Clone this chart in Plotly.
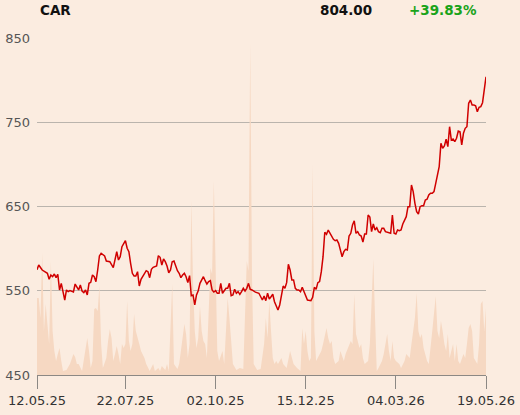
import plotly.graph_objects as go

# ---- data ----
symbol = "CAR"
last_price = "804.00"
change_pct = "+39.83%"

tick_days = [0, 51, 103, 155, 207, 259]
tick_labels = ["12.05.25", "22.07.25", "02.10.25", "15.12.25", "04.03.26", "19.05.26"]

price_day = [0, 1, 3, 5, 6, 7, 8, 9, 10, 11, 12, 13, 14, 15, 16, 17, 18, 19, 21, 22, 23, 24, 25, 26, 27, 28, 29, 30,
             31, 32, 33, 34, 35, 36, 37, 39, 40, 42, 44, 45, 46, 47, 48, 49, 51, 52, 53, 54, 55, 56, 57, 58, 59, 60,
             61, 63, 64, 65, 66, 67, 69, 70, 71, 72, 73, 74, 75, 76, 77, 78, 79, 80, 81, 82, 83, 84, 85, 86, 87, 88,
             89, 90, 91, 92, 93, 94, 96, 97, 98, 99, 100, 101, 102, 103, 104, 105, 106, 107, 108, 109, 110, 111, 112,
             113, 114, 115, 116, 117, 118, 119, 120, 121, 122, 123, 124, 126, 128, 129, 130, 131, 132, 133, 134, 135,
             136, 137, 139, 140, 141, 142, 143, 144, 145, 146, 147, 148, 149, 150, 151, 152, 153, 154, 155, 156, 158,
             159, 160, 161, 162, 163, 164, 165, 166, 167, 168, 169, 171, 172, 173, 174, 175, 176, 177, 178, 179, 180,
             181, 182, 183, 184, 185, 186, 187, 188, 189, 190, 191, 192, 193, 194, 195, 196, 197, 198, 199, 200, 201,
             203, 204, 205, 206, 207, 208, 209, 210, 211, 212, 213, 214, 215, 216, 217, 218, 219, 220, 221, 222, 223,
             224, 225, 226, 227, 228, 229, 230, 231, 232, 233, 234, 235, 236, 237, 238, 239, 240, 241, 242, 243, 244,
             245, 246, 247, 248, 249, 250, 251, 252, 253, 254, 255, 256, 257, 258, 259]
price = [575.0, 580.6, 574.6, 572.6, 570.7, 563.6, 568.7, 566.7, 569.9, 565.5, 569.5, 550.9, 558.8, 548.9, 539.0,
         550.9, 548.9, 550.1, 548.5, 558.0, 554.1, 550.9, 556.8, 549.7, 547.7, 550.9, 545.0, 558.8, 560.0, 568.7,
         566.7, 560.8, 574.6, 591.3, 594.5, 591.3, 585.3, 584.5, 577.4, 588.5, 596.4, 586.5, 590.4, 602.3, 609.4,
         600.4, 596.4, 582.6, 570.7, 567.5, 567.5, 572.6, 555.6, 563.6, 566.7, 573.8, 572.6, 565.5, 575.5, 577.8,
         579.4, 591.6, 589.7, 580.6, 587.7, 584.5, 579.4, 571.4, 574.6, 584.5, 585.3, 578.6, 573.8, 570.7, 565.5,
         568.7, 570.7, 566.7, 559.6, 567.9, 544.1, 545.0, 533.1, 545.0, 550.1, 558.8, 566.7, 561.9, 558.0, 560.8,
         561.9, 550.9, 548.5, 550.1, 547.0, 547.0, 558.8, 547.0, 550.9, 552.9, 552.9, 558.8, 544.1, 545.0, 551.7,
         547.0, 548.9, 545.8, 548.9, 552.9, 549.7, 552.9, 558.8, 551.7, 550.9, 548.3, 547.0, 542.9, 539.0, 543.8,
         538.2, 547.0, 540.2, 542.9, 545.8, 537.0, 527.2, 533.1, 542.9, 555.6, 552.9, 559.6, 581.4, 574.6, 562.8,
         562.8, 552.9, 550.9, 550.9, 548.9, 554.1, 548.9, 542.9, 539.0, 538.2, 542.2, 554.1, 551.7, 559.6, 560.8,
         572.6, 590.4, 619.4, 617.0, 622.1, 618.2, 611.1, 609.4, 610.2, 606.3, 596.4, 590.4, 596.4, 599.2, 598.4,
         615.0, 618.2, 628.0, 633.1, 618.2, 620.1, 616.2, 615.0, 607.9, 617.4, 617.4, 639.9, 637.5, 620.1, 629.2,
         622.1, 624.8, 620.1, 618.9, 624.1, 624.1, 620.1, 619.4, 618.2, 639.9, 618.2, 617.4, 622.1, 621.3, 622.1,
         629.2, 634.0, 637.9, 649.8, 649.8, 675.5, 667.6, 653.8, 643.8, 641.1, 649.8, 651.0, 651.0, 657.7, 658.6,
         663.7, 665.7, 665.7, 667.6, 677.5, 689.4, 697.2, 725.0, 719.1, 721.8, 729.8, 721.0, 744.7, 728.9, 730.1,
         726.9, 731.0, 739.6, 738.8, 723.0, 736.9, 742.8, 744.7, 772.5, 776.4, 770.5, 770.5, 769.6, 762.5, 767.7,
         768.5, 773.2, 790.3, 804.0]

volume_day = [0, 1, 2, 3, 4, 5, 6, 7, 8, 9, 10, 11, 12, 13, 14, 15, 17, 19, 21, 22, 23, 24, 26, 28, 29, 30, 31, 32,
              33, 34, 35, 36, 37, 38, 40, 41, 42, 43, 44, 45, 46, 47, 48, 49, 50, 51, 52, 53, 54, 55, 56, 57, 58, 59,
              60, 62, 63, 65, 67, 68, 70, 71, 72, 74, 75, 76, 78, 79, 81, 82, 83, 85, 86, 87, 88, 89, 90, 91, 92, 93,
              94, 95, 96, 97, 98, 100, 101, 102, 103, 104, 105, 107, 108, 109, 110, 111, 112, 113, 115, 117, 119, 121,
              122, 123, 124, 125, 127, 129, 131, 132, 133, 134, 135, 136, 137, 138, 139, 141, 142, 144, 146, 148, 150,
              152, 153, 154, 155, 156, 157, 158, 159, 160, 161, 162, 164, 165, 166, 167, 168, 169, 170, 171, 172, 174,
              175, 177, 178, 180, 181, 182, 183, 184, 186, 187, 188, 189, 191, 192, 194, 195, 196, 197, 199, 200, 202,
              203, 204, 205, 206, 207, 209, 210, 212, 213, 215, 216, 217, 218, 219, 220, 221, 222, 223, 225, 226, 227,
              228, 230, 231, 232, 233, 234, 235, 236, 237, 238, 239, 240, 241, 242, 243, 244, 246, 247, 248, 249, 250,
              251, 252, 254, 255, 256, 257, 258, 259]
volume = [231, 231, 171, 366, 132, 213, 153, 93, 342, 132, 72, 42, 63, 81, 42, 12, 15, 33, 63, 54, 33, 33, 12, 81,
          111, 72, 21, 42, 198, 201, 192, 267, 93, 21, 51, 102, 138, 111, 42, 63, 87, 63, 33, 93, 81, 93, 222, 102,
          72, 93, 183, 132, 108, 93, 72, 51, 33, 12, 33, 12, 21, 12, 27, 15, 33, 12, 273, 33, 18, 33, 72, 153, 123,
          51, 93, 522, 282, 132, 81, 111, 207, 132, 102, 93, 51, 321, 303, 582, 333, 72, 42, 72, 33, 153, 231, 171,
          93, 33, 15, 21, 18, 342, 312, 996, 303, 33, 15, 18, 93, 171, 111, 222, 132, 51, 33, 42, 33, 51, 33, 21, 72,
          33, 21, 12, 141, 93, 132, 72, 42, 51, 633, 132, 42, 51, 72, 93, 123, 141, 111, 93, 102, 51, 33, 42, 72, 42,
          63, 93, 102, 93, 243, 123, 81, 93, 51, 33, 42, 93, 348, 171, 12, 21, 42, 63, 123, 72, 42, 102, 51, 42, 33,
          21, 42, 63, 51, 93, 132, 171, 246, 132, 111, 123, 81, 42, 33, 93, 132, 237, 132, 111, 162, 132, 93, 72, 123,
          51, 72, 93, 42, 93, 42, 33, 63, 51, 93, 141, 153, 132, 51, 33, 93, 213, 222, 132, 201]

# ---- figure ----
BG = "#fbece0"
fig = go.Figure()
# volume on the main (hidden) axis so it sits underneath the price line
fig.add_trace(go.Scatter(x=volume_day, y=volume, yaxis="y", mode="lines", fill="tozeroy",
                         line=dict(width=0, color="#f6d6bf"), fillcolor="#f6d8c2",
                         hoverinfo="skip", showlegend=False))
fig.add_trace(go.Scatter(x=price_day, y=price, yaxis="y2", mode="lines",
                         line=dict(color="#d00000", width=1.5), showlegend=False))

fig.update_layout(
    width=520, height=415,
    margin=dict(l=37, r=34, t=38, b=40, autoexpand=False),
    paper_bgcolor=BG, plot_bgcolor=BG,
    font=dict(family="DejaVu Sans", size=13, color="#444444"),
    xaxis=dict(range=[0, 259], tickvals=tick_days, ticktext=tick_labels, showgrid=False,
               zeroline=False, showline=True, linecolor="#8c8884", linewidth=1,
               ticks="outside", ticklen=13, tickcolor="#8c8884", tickwidth=1, automargin=False,
               tickfont=dict(size=13, color="#333333")),
    yaxis=dict(range=[0, 1011], visible=False, showgrid=False, zeroline=False, automargin=False),
    yaxis2=dict(range=[450, 850], tickvals=[450, 550, 650, 750, 850], overlaying="y", side="left",
                showgrid=True, gridcolor="#bab4ad", gridwidth=1, zeroline=False, showline=False,
                ticks="", ticklabelstandoff=6, automargin=False,
                tickfont=dict(size=13, color="#555555")),
    annotations=[
        dict(text="<b>" + symbol + "</b>", xref="paper", yref="paper", x=0.002, y=1.083,
             xanchor="left", yanchor="middle", showarrow=False, font=dict(size=13.5, color="#111111")),
        dict(text="<b>" + last_price + "</b>", xref="paper", yref="paper", x=0.7506, y=1.083,
             xanchor="right", yanchor="middle", showarrow=False, font=dict(size=13.5, color="#111111")),
        dict(text="<b>" + change_pct + "</b>", xref="paper", yref="paper", x=0.824, y=1.083,
             xanchor="left", yanchor="middle", showarrow=False, font=dict(size=13.5, color="#1aa31a")),
    ],
)
fig.write_html("out.html", config={"displayModeBar": False},
               post_script="document.body.style.margin='0px';")
